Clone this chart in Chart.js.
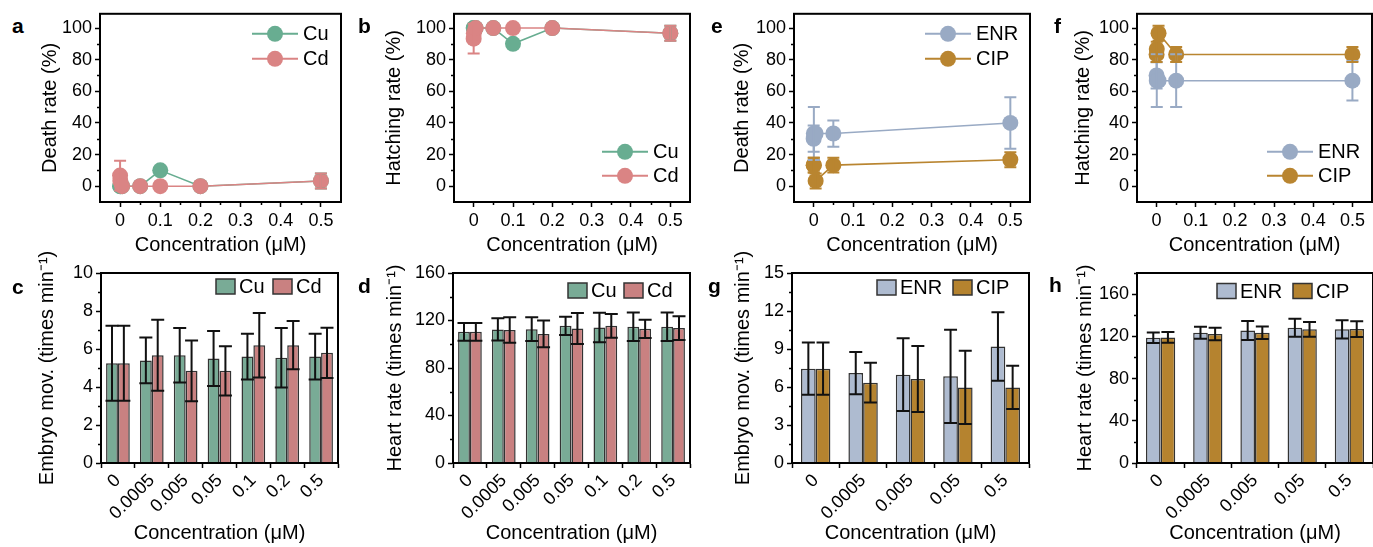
<!DOCTYPE html>
<html>
<head>
<meta charset="utf-8">
<script src="https://cdn.jsdelivr.net/npm/chart.js@4.4.1/dist/chart.umd.min.js"></script>
<style>
  html, body { margin: 0; padding: 0; background: #fff; overflow: hidden; }
  #wrap { position: relative; width: 1373px; height: 547px; overflow: hidden; }
  #wrap canvas { position: absolute; }
  .tag { position: absolute; font: bold 21px "Liberation Sans", Arial, sans-serif; line-height: 21px; color: #000; }
</style>
</head>
<body>
<div id="wrap">
  <canvas id="pa"></canvas><canvas id="pb"></canvas><canvas id="pe"></canvas><canvas id="pf"></canvas>
  <canvas id="pc"></canvas><canvas id="pd"></canvas><canvas id="pg"></canvas><canvas id="ph"></canvas>
  <div class="tag" style="left:12px;top:15px">a</div>
  <div class="tag" style="left:358px;top:15px">b</div>
  <div class="tag" style="left:711px;top:15px">e</div>
  <div class="tag" style="left:1054px;top:15px">f</div>
  <div class="tag" style="left:12px;top:276px">c</div>
  <div class="tag" style="left:358px;top:275px">d</div>
  <div class="tag" style="left:708px;top:275px">g</div>
  <div class="tag" style="left:1049px;top:274px">h</div>
</div>
<script>
// ---- data ----
const metalConc = [0, 0.0005, 0.005, 0.05, 0.1, 0.2, 0.5];
const abConc = [0, 0.0005, 0.005, 0.05, 0.5];
const metalLabels = ['0', '0.0005', '0.005', '0.05', '0.1', '0.2', '0.5'];
const abLabels = ['0', '0.0005', '0.005', '0.05', '0.5'];

const concTicks = [0, 0.1, 0.2, 0.3, 0.4, 0.5];
const rateTicks = [0, 20, 40, 60, 80, 100];
const embMetalTicks = [0, 2, 4, 6, 8, 10];
const embAbTicks = [0, 3, 6, 9, 12, 15];
const heartTicks = [0, 40, 80, 120, 160];

// a: death rate (%)
const deathCu = [0, 0, 0, 0, 10, 0, 3.3];
const deathCuErr = [0, 0, 0, 0, 0, 0, 4.7];
const deathCd = [6.7, 3.3, 0, 0, 0, 0, 3.3];
const deathCdErr = [9.4, 0, 0, 0, 0, 0, 4.7];
// b: hatching rate (%)
const hatchCu = [100, 100, 100, 100, 90, 100, 96.7];
const hatchCuErr = [0, 0, 0, 0, 0, 0, 4.7];
const hatchCd = [93.3, 96.7, 100, 100, 100, 100, 96.7];
const hatchCdErr = [9.4, 0, 0, 0, 0, 0, 4.7];
// e: death rate (%)
const deathEnr = [30, 33.3, 33.3, 33.3, 40];
const deathEnrErr = [8.3, 16.7, 0, 8.3, 16.3];
const deathCip = [13.3, 13.3, 3.3, 13.3, 16.7];
const deathCipErr = [4.7, 4.7, 4.7, 4.7, 4.7];
// f: hatching rate (%)
const hatchEnr = [70, 66.7, 66.7, 66.7, 66.7];
const hatchEnrErr = [8.3, 16.7, 0, 16.7, 12.5];
const hatchCip = [83.3, 86.7, 96.7, 83.3, 83.3];
const hatchCipErr = [4.7, 4.7, 4.7, 4.7, 4.7];
// c: embryo movement
const embCu = [5.25, 5.4, 5.67, 5.5, 5.6, 5.54, 5.6];
const embCuErr = [1.98, 1.2, 1.43, 1.45, 1.2, 1.56, 1.2];
const embCd = [5.25, 5.67, 4.85, 4.85, 6.2, 6.2, 5.8];
const embCdErr = [1.98, 1.87, 1.6, 1.3, 1.7, 1.27, 1.32];
// d: heart rate
const heartCu = [110.5, 112.5, 112.7, 115.5, 114.1, 114.7, 114.7];
const heartCuErr = [7.5, 9.4, 10, 7.7, 12.5, 12, 12];
const heartCd = [110.5, 112, 108.7, 113.3, 115.5, 113, 113.6];
const heartCdErr = [7.5, 10.8, 11.2, 13, 10, 7.7, 10];
// g: embryo movement
const embEnr = [7.45, 7.1, 6.97, 6.84, 9.2];
const embEnrErr = [2.06, 1.67, 2.87, 3.68, 2.7];
const embCip = [7.45, 6.34, 6.63, 5.97, 5.97];
const embCipErr = [2.06, 1.57, 2.6, 2.9, 1.7];
// h: heart rate
const heartEnr = [118.7, 123.4, 125.6, 128.2, 126.6];
const heartEnrErr = [5, 5.7, 9, 8.5, 8.7];
const heartCip = [119, 122.2, 123.4, 126.6, 126.9];
const heartCipErr = [5, 5.9, 6, 7, 7.5];

// ---- look ----
const FONT = '"Liberation Sans", Arial, Helvetica, sans-serif';
const TICK = 18, TITLE = 20, KEY = 20;
const cuDot = '#68ad91', cdDot = '#da8484', enrDot = '#99aac4', cipDot = '#b98530';
const cuBar = '#79ab96', cdBar = '#c98181', enrBar = '#aebbd0', cipBar = '#b5832f';
const conc = 'Concentration (μM)';

Chart.defaults.font.family = FONT;
Chart.defaults.color = '#000';

const mids = arr => arr.slice(1).map((v, i) => (v + arr[i]) / 2);

// frame round the plot + short minor ticks
const framePlugin = {
  id: 'frame',
  afterDraw(chart, args, o) {
    const { ctx, chartArea: a } = chart;
    ctx.save();
    ctx.strokeStyle = '#000';
    ctx.lineWidth = 1.5;
    (o.yMinor || []).forEach(v => {
      const y = Math.round(chart.scales.y.getPixelForValue(v)) + 0.5;
      ctx.beginPath(); ctx.moveTo(a.left, y); ctx.lineTo(a.left - 3, y); ctx.stroke();
    });
    (o.xMinor || []).forEach(v => {
      const x = Math.round(chart.scales.x.getPixelForValue(v)) + 0.5;
      ctx.beginPath(); ctx.moveTo(x, a.bottom); ctx.lineTo(x, a.bottom + 3); ctx.stroke();
    });
    ctx.lineWidth = 2;
    ctx.strokeRect(a.left, a.top, a.right - a.left, a.bottom - a.top);
    ctx.restore();
  }
};

// error bars from ds.err
const errPlugin = {
  id: 'errbars',
  afterDatasetsDraw(chart) {
    const ctx = chart.ctx, ys = chart.scales.y;
    ctx.save();
    chart.data.datasets.forEach((ds, i) => {
      if (!ds.err) return;
      const meta = chart.getDatasetMeta(i);
      ctx.strokeStyle = ds.errColor;
      ctx.lineWidth = ds.errWidth;
      meta.data.forEach((el, j) => {
        const e = ds.err[j];
        if (!e) return;
        const v = typeof ds.data[j] === 'object' ? ds.data[j].y : ds.data[j];
        const x = el.x, y1 = ys.getPixelForValue(v + e), y2 = ys.getPixelForValue(v - e);
        const c = ds.errCap;
        ctx.beginPath();
        ctx.moveTo(x, y1); ctx.lineTo(x, y2);
        ctx.moveTo(x - c, y1); ctx.lineTo(x + c, y1);
        ctx.moveTo(x - c, y2); ctx.lineTo(x + c, y2);
        ctx.stroke();
      });
    });
    ctx.restore();
  }
};

// legend drawn inside the plot
const keyPlugin = {
  id: 'key',
  afterDraw(chart, args, o) {
    const { ctx, chartArea: a } = chart;
    ctx.save();
    ctx.font = KEY + 'px ' + FONT;
    ctx.textBaseline = 'middle';
    o.items.forEach(it => {
      const x = a.right - it.dx, y = a.top + it.dy;
      if (o.kind === 'line') {
        ctx.strokeStyle = it.color; ctx.lineWidth = 2;
        ctx.beginPath(); ctx.moveTo(x - 23, y); ctx.lineTo(x + 23, y); ctx.stroke();
        ctx.fillStyle = it.color;
        ctx.beginPath(); ctx.arc(x, y, 8, 0, Math.PI * 2); ctx.fill();
        ctx.fillStyle = '#000';
        ctx.fillText(it.label, x + 28, y + 1);
      } else {
        ctx.fillStyle = it.color;
        ctx.fillRect(x, y - 7.5, 19, 15);
        ctx.strokeStyle = '#333'; ctx.lineWidth = 1.5;
        ctx.strokeRect(x, y - 7.5, 19, 15);
        ctx.fillStyle = '#000';
        ctx.fillText(it.label, x + 23, y + 1);
      }
    });
    ctx.restore();
  }
};

function place(id, box) {
  const c = document.getElementById(id);
  const w = box.r - box.l + box.yW + box.padR;
  const h = box.b - box.t + box.padT + box.xH;
  c.width = w; c.height = h;
  c.style.left = (box.l - box.yW) + 'px';
  c.style.top = (box.t - box.padT) + 'px';
  c.style.width = w + 'px'; c.style.height = h + 'px';
  return c;
}

const gridOpts = { drawOnChartArea: false, drawTicks: true, tickLength: 5, tickWidth: 1.5, tickColor: '#000' };
const borderOpts = { display: true, color: '#000', width: 2 };

function yAxis(text, min, max, ticks, yW) {
  return {
    min, max,
    afterBuildTicks: s => { s.ticks = ticks.map(v => ({ value: v })); },
    afterFit: s => { s.width = yW; },
    ticks: { font: { size: TICK }, color: '#000', padding: 3 },
    grid: gridOpts, border: borderOpts,
    title: { display: true, text, font: { size: TITLE }, color: '#000', padding: 0 }
  };
}

function concAxis(xH) {
  return {
    type: 'linear', min: -0.05, max: 0.55,
    afterBuildTicks: s => { s.ticks = concTicks.map(v => ({ value: v })); },
    afterFit: s => { s.height = xH; },
    ticks: { font: { size: TICK }, color: '#000', padding: 3, maxRotation: 0, callback: v => String(v) },
    grid: gridOpts, border: borderOpts,
    title: { display: true, text: conc, font: { size: TITLE }, color: '#000', padding: 0 }
  };
}

function catAxis(xH) {
  return {
    type: 'category',
    afterFit: s => { s.height = xH; },
    ticks: { font: { size: TICK }, color: '#000', padding: 2, minRotation: 45, maxRotation: 45, autoSkip: false },
    grid: Object.assign({ offset: true }, gridOpts), border: borderOpts,
    title: { display: true, text: conc, font: { size: TITLE }, color: '#000', padding: 0 }
  };
}

function lineSet(label, xs, ys, err, color, order) {
  return {
    label, order,
    data: xs.map((x, i) => ({ x, y: ys[i] })),
    err, errColor: color, errWidth: 2, errCap: 6,
    borderColor: color, backgroundColor: color, borderWidth: 1.6,
    pointRadius: 8, pointHoverRadius: 8, pointBorderWidth: 0, pointBackgroundColor: color,
    fill: false, tension: 0
  };
}

function barSet(label, ys, err, color, pct) {
  return {
    label, data: ys, err, errColor: '#111', errWidth: 2, errCap: 6.5,
    backgroundColor: color, borderColor: '#333', borderWidth: 1.5,
    categoryPercentage: pct, barPercentage: 1
  };
}

function lineChart(id, box, ytitle, sets, keyItems) {
  const c = place(id, box);
  return new Chart(c, {
    type: 'line',
    data: { datasets: sets },
    options: {
      responsive: false, animation: false, devicePixelRatio: 1,
      layout: { padding: { top: box.padT, right: box.padR, left: 0, bottom: 0 }, autoPadding: false },
      scales: { x: concAxis(box.xH), y: yAxis(ytitle, -10, 109, rateTicks, box.yW) },
      plugins: {
        legend: { display: false }, tooltip: { enabled: false },
        frame: { yMinor: mids(rateTicks), xMinor: mids(concTicks) },
        key: { kind: 'line', items: keyItems }
      }
    },
    plugins: [framePlugin, errPlugin, keyPlugin]
  });
}

function barChart(id, box, labels, ytitle, ymax, yticks, yMinor, sets, keyItems) {
  const c = place(id, box);
  return new Chart(c, {
    type: 'bar',
    data: { labels, datasets: sets },
    options: {
      responsive: false, animation: false, devicePixelRatio: 1,
      layout: { padding: { top: box.padT, right: box.padR, left: 0, bottom: 0 }, autoPadding: false },
      scales: { x: catAxis(box.xH), y: yAxis(ytitle, 0, ymax, yticks, box.yW) },
      plugins: {
        legend: { display: false }, tooltip: { enabled: false },
        frame: { yMinor },
        key: { kind: 'box', items: keyItems }
      }
    },
    plugins: [framePlugin, errPlugin, keyPlugin]
  });
}

// ---- top row ----
lineChart('pa', { l: 100, r: 341, t: 13, b: 202, yW: 62, xH: 55, padT: 13, padR: 16 }, 'Death rate (%)', [
  lineSet('Cu', metalConc, deathCu, deathCuErr, cuDot, 1),
  lineSet('Cd', metalConc, deathCd, deathCdErr, cdDot, 0)
], [{ label: 'Cu', color: cuDot, dx: 66, dy: 20 }, { label: 'Cd', color: cdDot, dx: 66, dy: 45 }]);

lineChart('pb', { l: 454, r: 690, t: 13, b: 202, yW: 72, xH: 55, padT: 13, padR: 16 }, 'Hatching rate (%)', [
  lineSet('Cu', metalConc, hatchCu, hatchCuErr, cuDot, 1),
  lineSet('Cd', metalConc, hatchCd, hatchCdErr, cdDot, 0)
], [{ label: 'Cu', color: cuDot, dx: 65, dy: 138 }, { label: 'Cd', color: cdDot, dx: 65, dy: 162 }]);

lineChart('pe', { l: 794, r: 1030, t: 13, b: 202, yW: 64, xH: 55, padT: 13, padR: 16 }, 'Death rate (%)', [
  lineSet('ENR', abConc, deathEnr, deathEnrErr, enrDot, 0),
  lineSet('CIP', abConc, deathCip, deathCipErr, cipDot, 1)
], [{ label: 'ENR', color: enrDot, dx: 82, dy: 20 }, { label: 'CIP', color: cipDot, dx: 82, dy: 45 }]);

lineChart('pf', { l: 1137, r: 1372, t: 13, b: 202, yW: 66, xH: 55, padT: 13, padR: 16 }, 'Hatching rate (%)', [
  lineSet('ENR', abConc, hatchEnr, hatchEnrErr, enrDot, 0),
  lineSet('CIP', abConc, hatchCip, hatchCipErr, cipDot, 1)
], [{ label: 'ENR', color: enrDot, dx: 82, dy: 138 }, { label: 'CIP', color: cipDot, dx: 82, dy: 162 }]);

// ---- bottom row ----
barChart('pc', { l: 101, r: 338, t: 273, b: 463, yW: 66, xH: 82, padT: 30, padR: 8 }, metalLabels,
  'Embryo mov. (times min⁻¹)', 10, embMetalTicks, mids(embMetalTicks), [
  barSet('Cu', embCu, embCuErr, cuBar, 0.7),
  barSet('Cd', embCd, embCdErr, cdBar, 0.7)
], [{ label: 'Cu', color: cuBar, dx: 122, dy: 13.5 }, { label: 'Cd', color: cdBar, dx: 65, dy: 13.5 }]);

barChart('pd', { l: 453, r: 690, t: 273, b: 463, yW: 70, xH: 82, padT: 30, padR: 8 }, metalLabels,
  'Heart rate (times min⁻¹)', 160, heartTicks, mids(heartTicks), [
  barSet('Cu', heartCu, heartCuErr, cuBar, 0.7),
  barSet('Cd', heartCd, heartCdErr, cdBar, 0.7)
], [{ label: 'Cu', color: cuBar, dx: 122, dy: 17.5 }, { label: 'Cd', color: cdBar, dx: 66, dy: 17.5 }]);

barChart('pg', { l: 792, r: 1029, t: 273, b: 463, yW: 61, xH: 82, padT: 30, padR: 8 }, abLabels,
  'Embryo mov. (times min⁻¹)', 15, embAbTicks, mids(embAbTicks), [
  barSet('ENR', embEnr, embEnrErr, enrBar, 0.62),
  barSet('CIP', embCip, embCipErr, cipBar, 0.62)
], [{ label: 'ENR', color: enrBar, dx: 152, dy: 14.5 }, { label: 'CIP', color: cipBar, dx: 76, dy: 14.5 }]);

barChart('ph', { l: 1137, r: 1373, t: 273, b: 463, yW: 64, xH: 82, padT: 30, padR: 8 }, abLabels,
  'Heart rate (times min⁻¹)', 180, heartTicks, mids(heartTicks).concat([180]), [
  barSet('ENR', heartEnr, heartEnrErr, enrBar, 0.62),
  barSet('CIP', heartCip, heartCipErr, cipBar, 0.62)
], [{ label: 'ENR', color: enrBar, dx: 156, dy: 18 }, { label: 'CIP', color: cipBar, dx: 80, dy: 18 }]);
</script>
</body>
</html>
